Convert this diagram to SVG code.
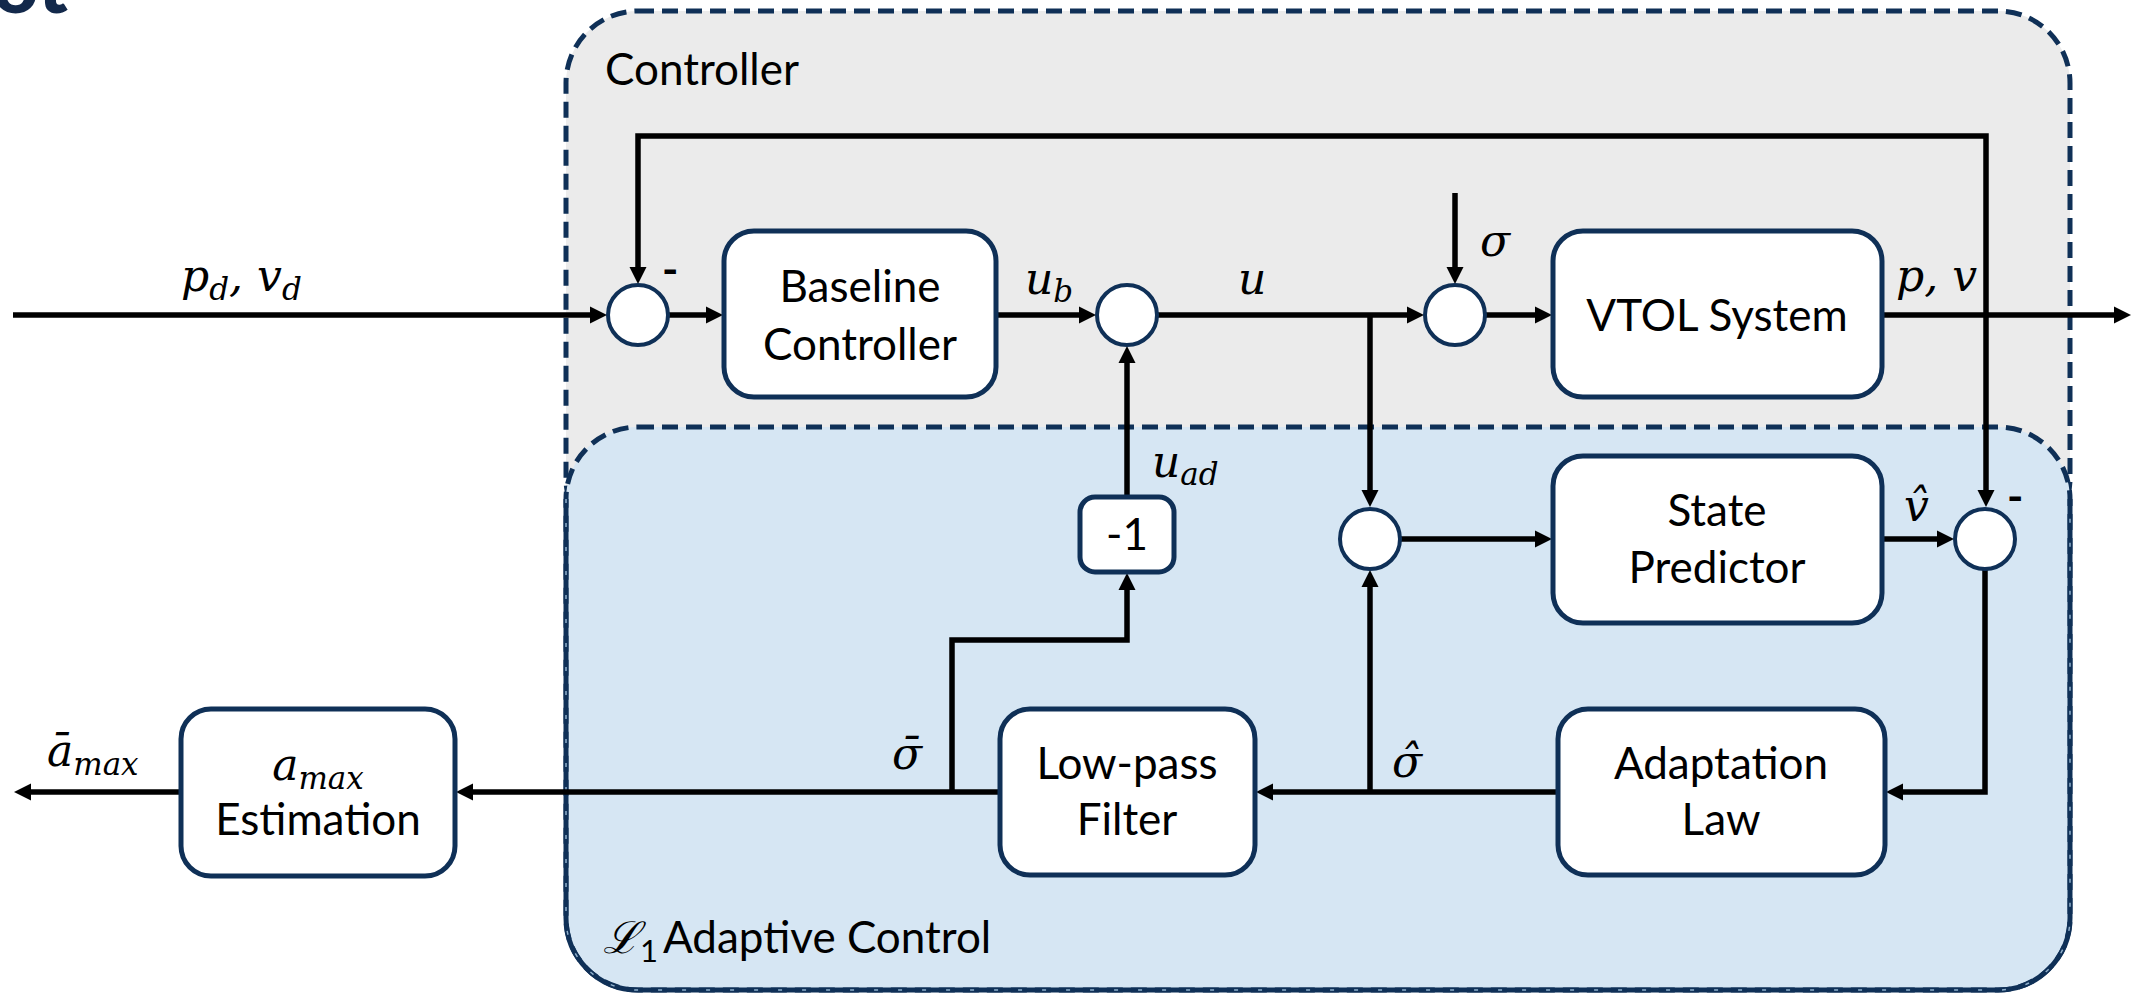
<svg xmlns="http://www.w3.org/2000/svg" width="2138" height="994" viewBox="0 0 2138 994">
<style>
.box{fill:#fff;stroke:#0F3057;stroke-width:5}
.sum{fill:#fff;stroke:#0F3057;stroke-width:4}
.t{font-family:Lato,"Liberation Sans",sans-serif;font-size:44px;fill:#000}
.tc{text-anchor:middle}
.m{font-family:"DejaVu Serif","Liberation Serif",serif;font-style:italic;font-size:44px;fill:#000}
.sb{font-size:31px}
.w{fill:none;stroke:#000;stroke-width:5.5;stroke-linejoin:miter}
.a{marker-end:url(#ah)}
.grp{stroke:#0F3057;stroke-width:5;stroke-dasharray:16 8}
</style>
<defs>
<marker id="ah" markerUnits="userSpaceOnUse" markerWidth="20" markerHeight="20" viewBox="0 -10 20 20" refX="1" refY="0" orient="auto">
<path d="M0,-8.5 L17,0 L0,8.5 z" fill="#000"/>
</marker>
</defs>
<rect width="2138" height="994" fill="#fff"/>
<text x="68" y="13" text-anchor="end" font-family="Lato,'Liberation Sans',sans-serif" font-weight="900" font-size="80" fill="#13294B">ot</text>

<g id="controller-region">
<rect x="566" y="11" width="1504" height="540" rx="72" fill="#EBEBEB" class="grp"/>
<text class="t" x="605" y="85">Controller</text>
</g>
<g id="l1-region">
<rect x="566" y="427" width="1504" height="563" rx="72" fill="#D6E6F3" class="grp"/>
<path d="M566,499 V918 A72,72 0 0 0 638,990 H1998 A72,72 0 0 0 2070,918 V499" fill="none" stroke="#0F3057" stroke-width="5"/>
<path d="M566,499 V918 A72,72 0 0 0 638,990 H1998 A72,72 0 0 0 2070,918 V499" fill="none" stroke="#8FAFCB" stroke-width="1.5" stroke-dasharray="4 20"/>
<text class="t" x="603" y="953"><tspan font-family="'DejaVu Serif',serif" font-style="italic">ℒ</tspan><tspan font-size="31" dy="9">1</tspan><tspan dy="-9" x="663">Adaptive Control</tspan></text>
</g>

<g id="connectors">
<path class="w a" d="M13,315 H591"/>
<path class="w a" d="M668,315 H707"/>
<path class="w a" d="M996,315 H1080"/>
<path class="w a" d="M1157,315 H1408"/>
<path class="w a" d="M1370,315 V491"/>
<path class="w a" d="M1455,193 V268"/>
<path class="w a" d="M1485,315 H1536"/>
<path class="w a" d="M1882,315 H2115"/>
<path class="w a" d="M1986,315 V136 H638 V268"/>
<path class="w a" d="M1986,315 V491"/>
<path class="w a" d="M1400,539 H1536"/>
<path class="w a" d="M1882,539 H1938"/>
<path class="w a" d="M1985,569 V792 H1902"/>
<path class="w a" d="M1558,792 H1272"/>
<path class="w a" d="M1370,792 V586"/>
<path class="w a" d="M1000,792 H472"/>
<path class="w a" d="M952,792 V640 H1127 V589"/>
<path class="w a" d="M1127,497 V362"/>
<path class="w a" d="M181,792 H30"/>
</g>

<g id="labels">
<text class="m" x="181" y="291">p<tspan class="sb" dy="9">d</tspan><tspan dy="-9">, v</tspan><tspan class="sb" dy="9">d</tspan></text>
<text class="m" x="1025" y="294">u<tspan class="sb" dy="8">b</tspan></text>
<text class="m" x="1238" y="294">u</text>
<text class="m" x="1480" y="256">σ</text>
<text class="m" x="1896" y="291">p, v</text>
<text class="m" x="1904" y="521">v̂</text>
<text class="m" x="1152" y="477">u<tspan class="sb" dy="8">ad</tspan></text>
<text class="m" x="892" y="769">σ̄</text>
<text class="m" x="1392" y="777">σ̂</text>
<text class="m" x="47" y="766">ā<tspan class="sb" dy="9">max</tspan></text>
<text class="t" x="662" y="285" font-weight="bold" font-size="40">-</text>
<text class="t" x="2007" y="512" font-weight="bold" font-size="40">-</text>
</g>

<g id="sum1"><circle class="sum" cx="638" cy="315" r="30"/></g>
<g id="baseline-controller">
<rect class="box" x="724" y="231" width="272" height="166" rx="30"/>
<text class="t tc" x="860" y="302">Baseline</text>
<text class="t tc" x="860" y="360">Controller</text>
</g>
<g id="sum2"><circle class="sum" cx="1127" cy="315" r="30"/></g>
<g id="sum3"><circle class="sum" cx="1455" cy="315" r="30"/></g>
<g id="vtol-system">
<rect class="box" x="1553" y="231" width="329" height="166" rx="30"/>
<text class="t tc" x="1717" y="331">VTOL System</text>
</g>
<g id="sum5"><circle class="sum" cx="1370" cy="539" r="30"/></g>
<g id="state-predictor">
<rect class="box" x="1553" y="456" width="329" height="167" rx="30"/>
<text class="t tc" x="1717" y="526">State</text>
<text class="t tc" x="1717" y="583">Predictor</text>
</g>
<g id="sum4"><circle class="sum" cx="1985" cy="539" r="30"/></g>
<g id="adaptation-law">
<rect class="box" x="1558" y="709" width="327" height="166" rx="30"/>
<text class="t tc" x="1721" y="779">Adaptation</text>
<text class="t tc" x="1721" y="835">Law</text>
</g>
<g id="low-pass-filter">
<rect class="box" x="1000" y="709" width="255" height="166" rx="30"/>
<text class="t tc" x="1127" y="779">Low-pass</text>
<text class="t tc" x="1127" y="835">Filter</text>
</g>
<g id="gain">
<rect class="box" x="1080" y="497" width="94" height="75" rx="15"/>
<text class="t tc" x="1127" y="550">-1</text>
</g>
<g id="amax-estimation">
<rect class="box" x="181" y="709" width="274" height="167" rx="30"/>
<text class="m tc" x="318" y="780">a<tspan class="sb" dy="9">max</tspan></text>
<text class="t tc" x="318" y="835">Estimation</text>
</g>
</svg>
